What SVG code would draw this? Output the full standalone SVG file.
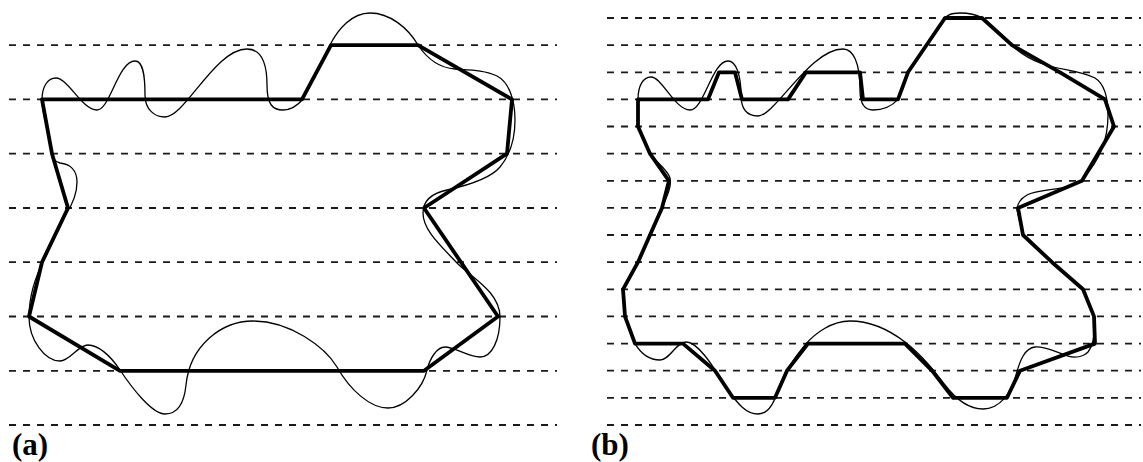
<svg xmlns="http://www.w3.org/2000/svg" width="1143" height="462" viewBox="0 0 1143 462">
<style>
.dash{stroke:#1a1a1a;stroke-width:1.8;stroke-dasharray:7 7;fill:none}
.thick{stroke:#000;stroke-width:3.8;fill:none;stroke-linejoin:round}
.thin{stroke:#000;stroke-width:1.3;fill:none}
.lbl{font-family:"Liberation Serif","Times New Roman",serif;font-weight:bold;font-size:31px;fill:#000}
</style>
<rect width="1143" height="462" fill="#fff"/>
<g id="grid-a">
<line class="dash" x1="9" y1="45.1" x2="557" y2="45.1"/>
<line class="dash" x1="9" y1="99.4" x2="557" y2="99.4"/>
<line class="dash" x1="9" y1="153.7" x2="557" y2="153.7"/>
<line class="dash" x1="9" y1="208" x2="557" y2="208"/>
<line class="dash" x1="9" y1="262.2" x2="557" y2="262.2"/>
<line class="dash" x1="9" y1="316.5" x2="557" y2="316.5"/>
<line class="dash" x1="9" y1="370.8" x2="557" y2="370.8"/>
<line class="dash" x1="9" y1="425" x2="557" y2="425"/>
</g>
<g id="grid-b">
<line class="dash" x1="607" y1="18" x2="1141" y2="18"/>
<line class="dash" x1="607" y1="45.1" x2="1141" y2="45.1"/>
<line class="dash" x1="607" y1="72.3" x2="1141" y2="72.3"/>
<line class="dash" x1="607" y1="99.4" x2="1141" y2="99.4"/>
<line class="dash" x1="607" y1="126.5" x2="1141" y2="126.5"/>
<line class="dash" x1="607" y1="153.7" x2="1141" y2="153.7"/>
<line class="dash" x1="607" y1="180.8" x2="1141" y2="180.8"/>
<line class="dash" x1="607" y1="207.9" x2="1141" y2="207.9"/>
<line class="dash" x1="607" y1="235" x2="1141" y2="235"/>
<line class="dash" x1="607" y1="262.2" x2="1141" y2="262.2"/>
<line class="dash" x1="607" y1="289.3" x2="1141" y2="289.3"/>
<line class="dash" x1="607" y1="316.4" x2="1141" y2="316.4"/>
<line class="dash" x1="607" y1="343.6" x2="1141" y2="343.6"/>
<line class="dash" x1="607" y1="370.7" x2="1141" y2="370.7"/>
<line class="dash" x1="607" y1="397.8" x2="1141" y2="397.8"/>
<line class="dash" x1="607" y1="425" x2="1141" y2="425"/>
</g>
<g id="panel-a">
<path class="thin" d="M42 100 C42 86,48 78,56 78 C68 78,82 110,97 110 C110 110,118 61,135 61 C143 61,145 75,145 95 C145 110,155 117,165 117 C185 117,215 49,247 49 C260 49,267 60,267 85 C267 105,273 110,283 110 C292 110,298 105,303 99 L330 45 C338 29,352 13,370 13 C390 13,408 28,418 45 C428 60,440 68,455 69 C470 70,485 70,497 76 C509 82,515 100,515 120 C515 140,510 155,500 167 C490 179,465 186,447 190 C433 193,423 200,423 213 C423 230,440 245,457 263 C472 278,500 292,500 317 C500 340,492 357,480 357 C468 357,455 347,445 347 C437 347,430 358,427 370 C423 388,405 408,388 408 C370 408,350 390,337 367 C325 347,290 321,253 321 C222 321,190 345,186 385 C184 405,176 414,165 414 C152 414,132 388,120 370 C110 355,98 345,88 345 C78 345,70 361,60 361 C45 361,29 340,29 317 C29 295,36 275,45 258 L66 214 C72 205,77 195,77 182 C77 170,70 164,60 163 C55 162,52 158,51 150 C49 130,42 115,42 100 Z"/>
<path class="thick" d="M42 99.4 L302 99.4 L331 45.1 L418 45.1 L512 99.4 L507 153.7 L424 208 L498 316.5 L424 370.8 L120 370.8 L29 316.5 L42 262.2 L68 208 L52 153.7 Z"/>
<text class="lbl" x="12" y="455">(a)</text>
</g>
<g id="panel-b">
<path class="thin" d="M638 99.4 C638 86,643 77,651 77 C662 77,675 110,690 110 C704 110,712 61,728 61 C736 61,741 75,741 95 C741 110,748 116,758 116 C775 116,810 49,843 49 C853 49,860 62,860 90 C860 104,865 110,873 110 C884 110,892 106,898 99.4 L908 72.3 L942 22 C946 15,951 13,960 13 C970 13,977 15,982 18 L1008 42 C1015 49,1025 57,1040 63 C1058 70,1080 70,1095 78 C1103 83,1108 95,1108 115 C1108 140,1100 160,1082 180 C1070 191,1040 188,1027 195 C1020 199,1017 204,1017 210 L1023 235 L1052 262.2 L1083 289.3 L1094 316.4 C1095 330,1094 345,1088 352 C1083 357,1075 358,1068 356 C1055 352,1045 346,1035 347 C1025 348,1020 360,1016 375 C1012 392,1000 409,983 409 C968 409,955 398,945 385 C935 372,922 355,905 342 C888 329,868 321,850 321 C832 321,815 333,805 345 C795 357,786 370,780 385 C775 400,770 414,758 414 C746 414,738 404,728 390 C718 375,700 342,686 342 C676 342,670 360,660 360 C648 360,640 352,635 343.6 L625 316.4 L623 289.3 L638 262.2 L650 235 L662 207.9 C667 196,672 186,670 178 C668 170,656 162,650 153.7 L638 126.5 Z"/>
<path class="thick" d="M638 99.4 L708 99.4 L719 72.3 L735 72.3 L742 99.4 L788 99.4 L806 72.3 L860 72.3 L863 99.4 L898 99.4 L908 72.3 L945 18 L982 18 L1012 45.1 L1060 72.3 L1105 99.4 L1114 126.5 L1082 180.8 L1018 207.9 L1023 235 L1052 262.2 L1083 289.3 L1094 316.4 L1095 343.6 L1020 370.7 L1007 397.8 L953 397.8 L932 370.7 L905 343.6 L808 343.6 L787 370.7 L775 397.8 L733 397.8 L715 370.7 L683 343.6 L635 343.6 L625 316.4 L623 289.3 L638 262.2 L650 235 L662 207.9 L669 180.8 L650 153.7 L638 126.5 Z"/>
<text class="lbl" x="591" y="455">(b)</text>
</g>
</svg>
